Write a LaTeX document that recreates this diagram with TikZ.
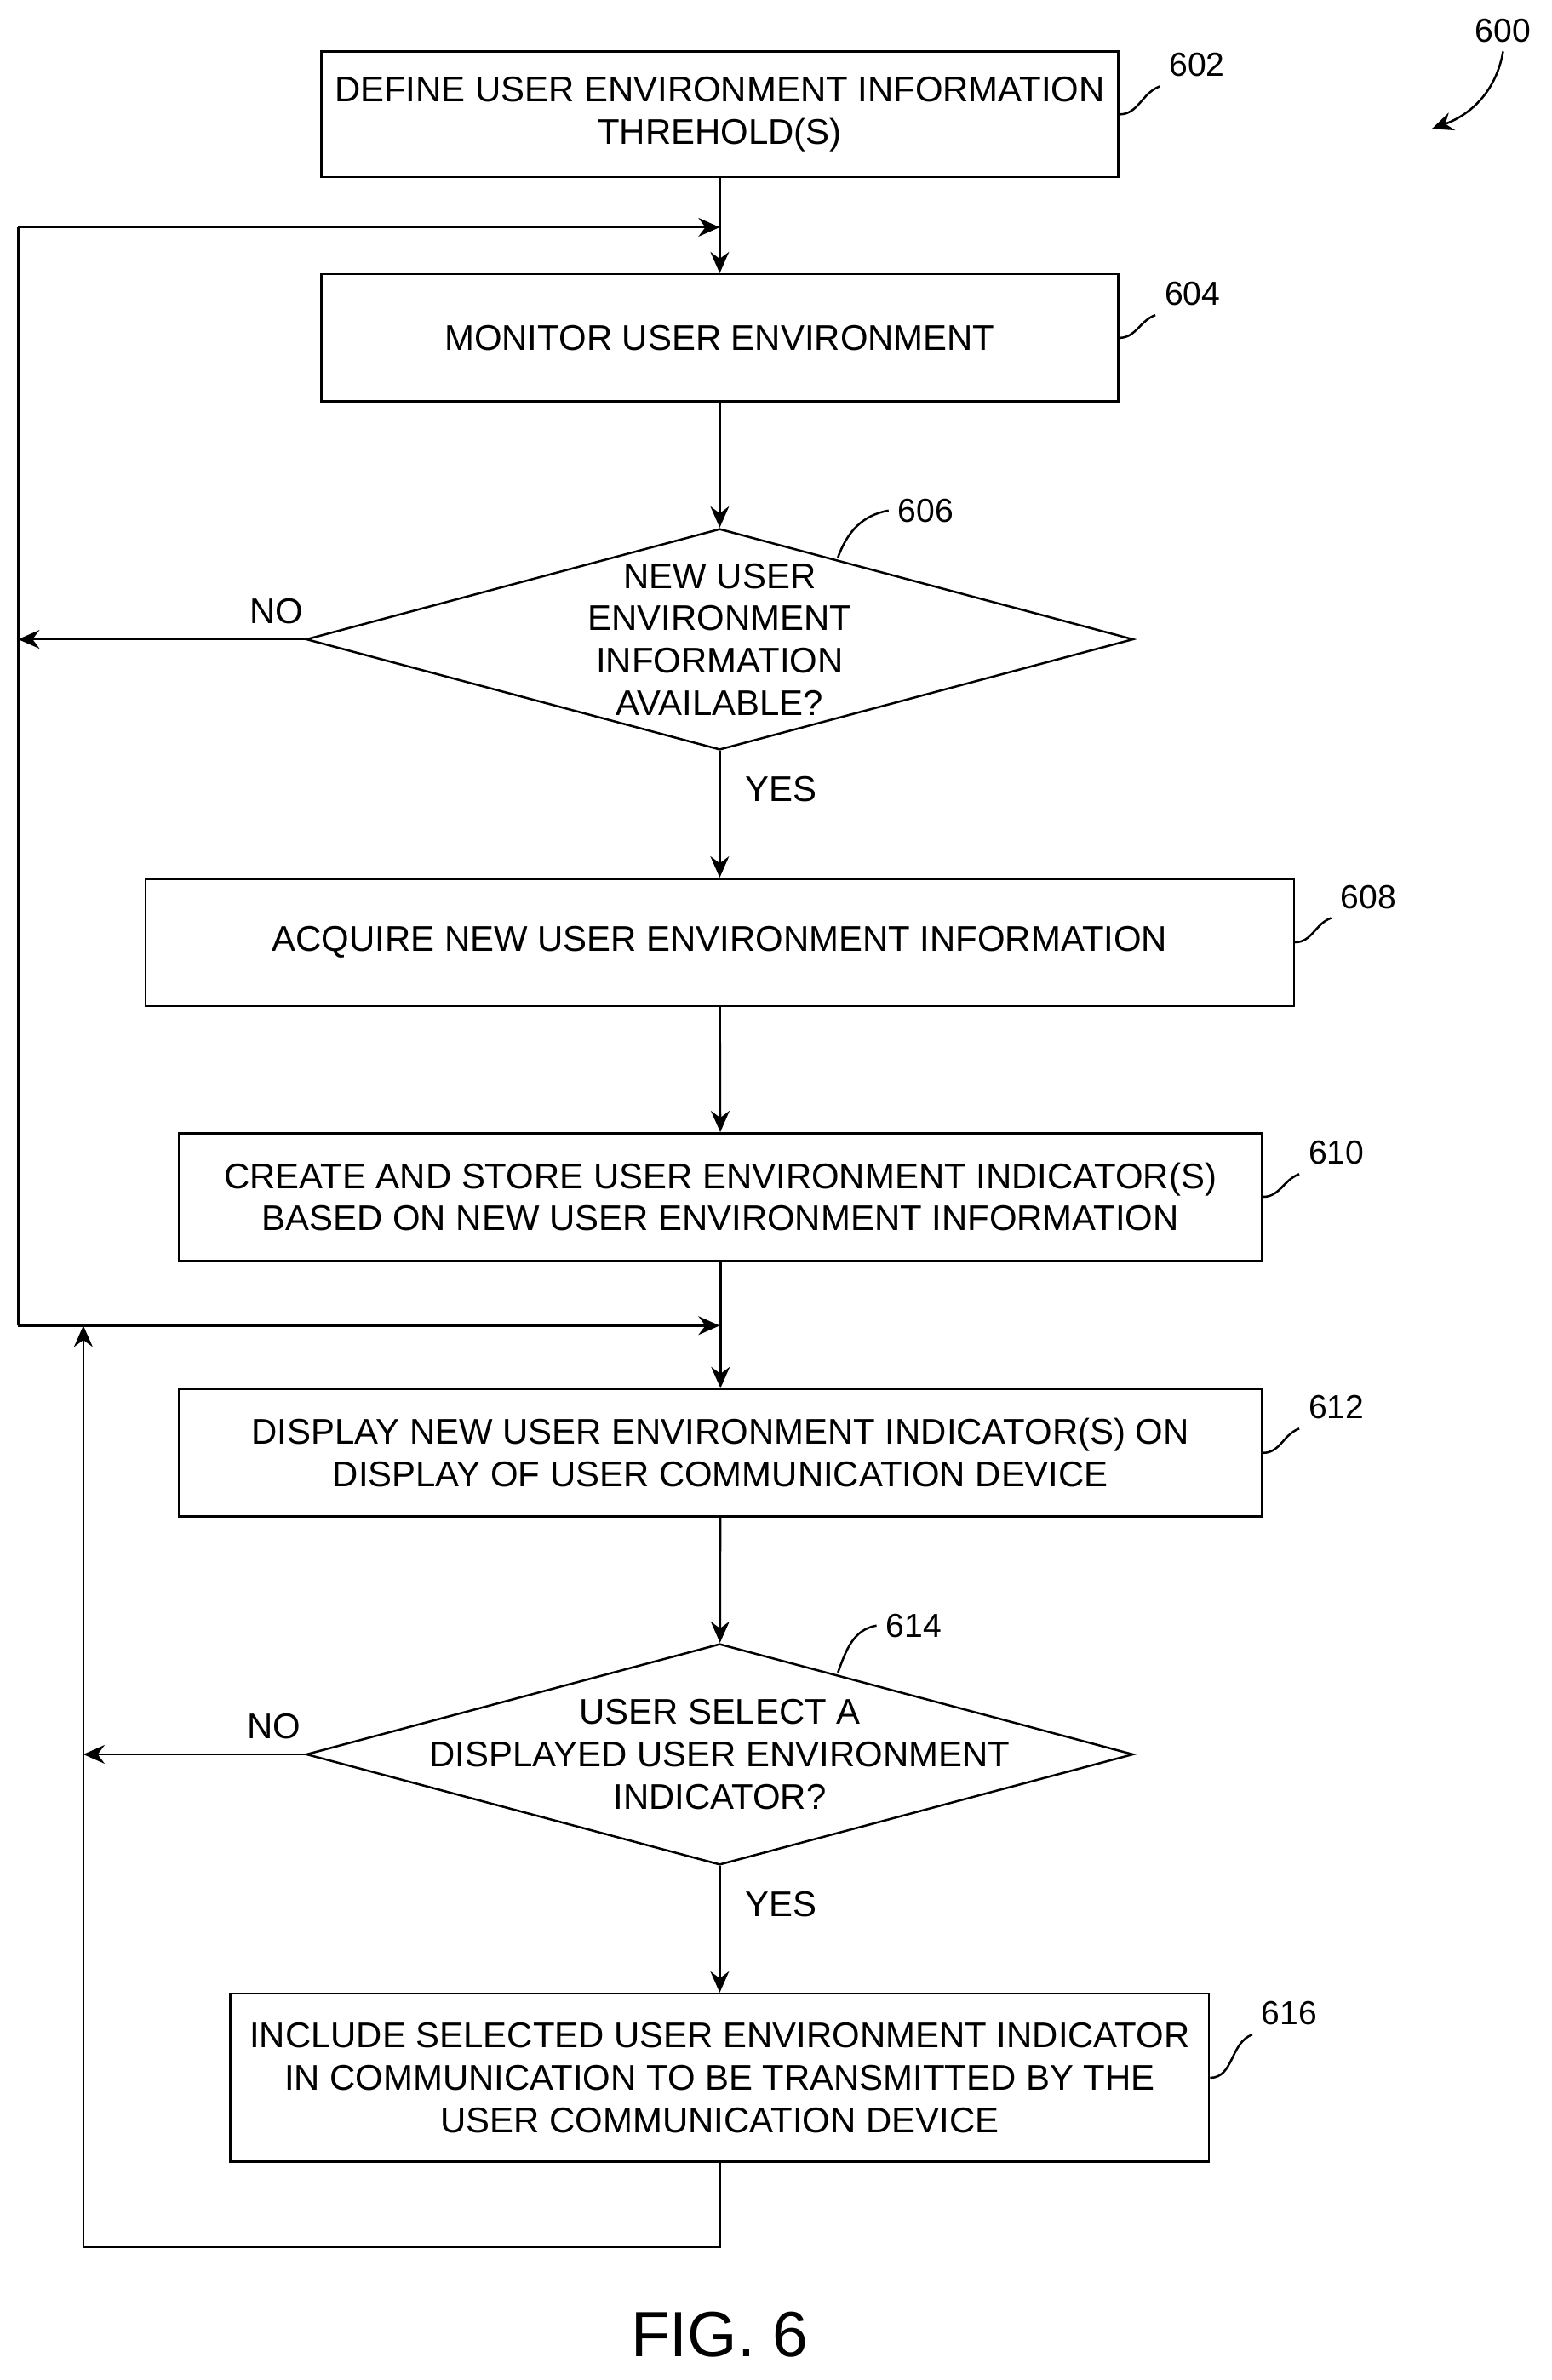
\documentclass[tikz,border=0pt]{standalone}
\usepackage{fontspec}
\setmainfont{Liberation Sans}
\usetikzlibrary{arrows.meta}
\usetikzlibrary{shapes.geometric}
\usetikzlibrary{positioning}
\tikzset{
  procbox/.style={draw, thick, inner sep=0pt, align=center, minimum height=1.68cm},
  decide/.style={draw, thick, diamond, inner sep=0pt, aspect=3.74, minimum width=10.92cm, minimum height=2.92cm},
  refnum/.style={font=\fontsize{12.5}{14}\selectfont},
  flow/.style={thick, -{Stealth[length=8pt,width=7pt]}},
}
\begin{document}
\begin{tikzpicture}[x=0.02cm, y=-0.02cm, font=\fontsize{13.4}{15.9}\selectfont]
  \useasboundingbox[fill=white] (0,0) rectangle (1024,1571);
  % boxes
  \node[procbox, minimum width=10.52cm, minimum height=1.66cm] (b602) at (475,75.5)
    {DEFINE USER ENVIRONMENT INFORMATION\\THREHOLD(S)};
  \node[procbox, minimum width=10.52cm] (b604) at (475,223) {MONITOR USER ENVIRONMENT};
  \node[decide] (d606) at (475,422) {};
  \node[align=center] at (d606.center) {NEW USER\\ENVIRONMENT\\INFORMATION\\AVAILABLE?};
  \node[procbox, minimum width=15.16cm] (b608) at (475,622) {ACQUIRE NEW USER ENVIRONMENT INFORMATION};
  \node[procbox, minimum width=14.3cm] (b610) at (475.5,790)
    {CREATE AND STORE USER ENVIRONMENT INDICATOR(S)\\BASED ON NEW USER ENVIRONMENT INFORMATION};
  \node[procbox, minimum width=14.3cm] (b612) at (475.5,959)
    {DISPLAY NEW USER ENVIRONMENT INDICATOR(S) ON\\DISPLAY OF USER COMMUNICATION DEVICE};
  \node[decide] (d614) at (475,1158) {};
  \node[align=center] at (d614.center) {USER SELECT A\\DISPLAYED USER ENVIRONMENT\\INDICATOR?};
  \node[procbox, minimum width=12.92cm, minimum height=2.22cm] (b616) at (475,1371.5)
    {INCLUDE SELECTED USER ENVIRONMENT INDICATOR\\IN COMMUNICATION TO BE TRANSMITTED BY THE\\USER COMMUNICATION DEVICE};

  % junctions
  \coordinate (j1) at (475,150);
  \coordinate (j2) at (475,875);
  \coordinate (l1) at (12,422);
  \coordinate (l1t) at (12,150);
  \coordinate (l1b) at (12,875);
  \coordinate (l2) at (55,1158);
  \coordinate (l2t) at (55,875);
  \coordinate (l2b) at (55,1483);
  \coordinate (c616) at (475,1483);

  % connectors
  \draw[flow] (b602) -- (b604);
  \draw[flow] (b604) -- (d606);
  \draw[flow] (d606) -- node[right, pos=0.3, xshift=6pt] {YES} (b608);
  \draw[flow] (b608) -- (b610);
  \draw[flow] (b610) -- (b612);
  \draw[flow] (b612) -- (d614);
  \draw[flow] (d614) -- node[right, pos=0.3, xshift=6pt] {YES} (b616);
  \draw[flow] (d606.west) -- node[above, pos=0.1, yshift=2pt] {NO} (l1);
  \draw[flow] (l1t) -- (j1);
  \draw[thick] (l1t) -- (l1b);
  \draw[flow] (l1b) -- (j2);
  \draw[flow] (d614.west) -- node[above, pos=0.14, yshift=2pt] {NO} (l2);
  \draw[flow] (b616.south) -- (c616) -- (l2b) -- (l2t);

  % reference numerals
  \node[refnum] (n600) at (992,20) {600};
  \node[refnum] (n602) at (790,43) {602};
  \node[refnum] (n604) at (787,194) {604};
  \node[refnum] (n606) at (611,337) {606};
  \node[refnum] (n608) at (903,592) {608};
  \node[refnum] (n610) at (882,761) {610};
  \node[refnum] (n612) at (882,929) {612};
  \node[refnum] (n614) at (603,1073) {614};
  \node[refnum] (n616) at (851,1329) {616};
  \coordinate (a600) at (945,85);
  \draw[flow] (n600.south) to[out=-100, in=20] (a600);
  \draw[thick] (b602.east) to[out=0, in=200] (n602.south west);
  \draw[thick] (b604.east) to[out=0, in=200] (n604.south west);
  \draw[thick] (553,368) to[out=70, in=190] (n606.west);
  \draw[thick] (b608.east) to[out=0, in=200] (n608.south west);
  \draw[thick] (b610.east) to[out=0, in=200] (n610.south west);
  \draw[thick] (b612.east) to[out=0, in=200] (n612.south west);
  \draw[thick] (553,1104) to[out=70, in=190] (n614.west);
  \draw[thick] (b616.east) to[out=0, in=200] (n616.south west);

  \node[font=\fontsize{24}{28}\selectfont] (fig) at (475,1541) {FIG. 6};
\end{tikzpicture}
\end{document}
